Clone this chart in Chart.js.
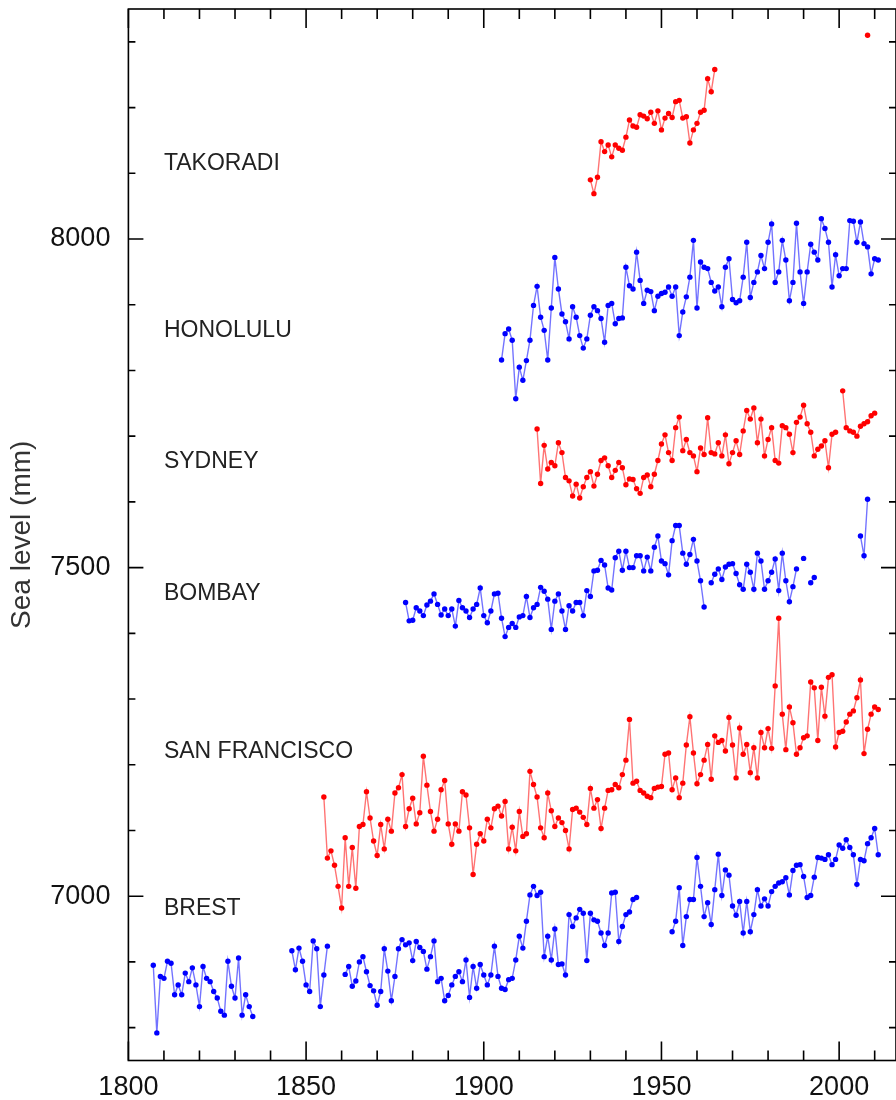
<!DOCTYPE html>
<html>
<head>
<meta charset="utf-8">
<script src="https://cdn.jsdelivr.net/npm/chart.js@4.4.1/dist/chart.umd.min.js"></script>
<style>
  html, body { margin: 0; padding: 0; background: #fff; overflow: hidden; }
  #wrap { width: 900px; height: 1100px; }
</style>
</head>
<body>
<div id="wrap"><canvas id="chart"></canvas></div>
<script>
// yearly mean sea level (mm), each series split into [startYear, values] runs
const takoradi = [
    [1930, [8090, 8069, 8094, 8148, 8133, 8143, 8125, 8143, 8138, 8135,
            8155, 8181, 8172, 8170, 8189, 8187, 8183, 8193, 8176, 8195,
            8166, 8184, 8191, 8185, 8209, 8211, 8184, 8186, 8146, 8166,
            8176, 8193, 8196, 8244, 8224, 8258]],
    [2008, [8310]]
];

const honolulu = [
    [1905, [7816, 7856, 7863, 7846, 7757, 7805, 7785,
            7815, 7846, 7899, 7928, 7881, 7861, 7816, 7895, 7972, 7924,
            7886, 7874, 7848, 7897, 7881, 7853, 7834, 7848, 7884, 7897,
            7891, 7879, 7843, 7899, 7902, 7871, 7879, 7880, 7957, 7929,
            7924, 7980, 7937, 7902, 7922, 7920, 7891, 7913, 7917, 7919,
            7927, 7913, 7927, 7853, 7889, 7912, 7942, 7998, 7895, 7965,
            7957, 7955, 7934, 7921, 7927, 7897, 7957, 7970, 7908, 7903,
            7906, 7942, 7995, 7911, 7934, 7950, 7975, 7955, 7995, 8023,
            7934, 7950, 7998, 7968, 7906, 7934, 8024, 7950, 7902, 7950,
            7992, 7980, 7968, 8031, 8016, 7995, 7927, 7976, 7944, 7955,
            7955, 8028, 8027, 7995, 8026, 7993, 7988, 7947, 7970, 7968]]
];

const sydney = [
    [1915, [7711, 7628, 7686, 7650, 7660, 7655, 7690, 7675, 7637, 7632,
            7609, 7627, 7606, 7623, 7637, 7646, 7624, 7642, 7663, 7667, 7655,
            7637, 7648, 7660, 7652, 7626, 7635, 7634, 7620, 7613, 7637, 7641,
            7623, 7642, 7663, 7688, 7702, 7675, 7663, 7713, 7729, 7678,
            7695, 7675, 7670, 7646, 7682, 7672, 7728, 7675, 7673, 7690, 7670,
            7702, 7658, 7675, 7693, 7672, 7708, 7739, 7726, 7743, 7690,
            7726, 7670, 7695, 7713, 7663, 7659, 7716, 7713, 7703, 7675,
            7721, 7729, 7747, 7719, 7706, 7670, 7680, 7685, 7693, 7652,
            7703, 7706]],
    [2001, [7769, 7713, 7708, 7706, 7700, 7715, 7719, 7722, 7731, 7735]]
];

const bombay = [
    [1878, [7447, 7419, 7420, 7439, 7434, 7427, 7443, 7449, 7460, 7444,
            7428, 7437, 7427, 7437, 7411, 7450, 7439, 7434, 7424, 7437,
            7444, 7469, 7427, 7416, 7434, 7460, 7461, 7423, 7395, 7409,
            7415, 7409, 7425, 7427, 7456, 7424, 7439, 7444, 7470, 7464,
            7452, 7406, 7449, 7460, 7434, 7406, 7442, 7434, 7447, 7447,
            7427, 7465, 7456, 7495, 7496, 7511, 7504, 7469, 7466, 7515,
            7525, 7496, 7525, 7500, 7500, 7518, 7518, 7495, 7516, 7495,
            7531, 7548, 7510, 7506, 7489, 7541, 7564, 7564, 7522, 7505,
            7520, 7543, 7510, 7480, 7440, null,
            7477, 7490, 7498, 7482, 7501, 7505, 7506, 7491, 7474, 7467,
            7505, 7493, 7467, 7522, 7510, 7467, 7480, 7493, 7513, 7465,
            7522, 7480, 7448, 7471, 7498, null,
            7514, null, 7477, 7485]],
    [2006, [7548, 7518, 7604]]
];

const sanFrancisco = [
    [1855, [7151, 7058, 7069, 7047, 7015, 6982, 7089, 7015, 7074, 7012,
            7106, 7109, 7159, 7119, 7084, 7062, 7109, 7072, 7117, 7099,
            7157, 7165, 7185, 7106, 7133, 7149, 7110, 7127, 7213, 7169,
            7129, 7099, 7117, 7162, 7176, 7110, 7079, 7110, 7099, 7159,
            7154, 7104, 7033, 7079, 7095, 7084, 7117, 7104, 7133, 7137,
            7122, 7144, 7072, 7105, 7069, 7129, 7091, 7095, 7190, 7170,
            7151, 7104, 7089, 7157, 7130, 7106, 7119, 7112, 7100, 7072,
            7132, 7134, 7128, 7120, 7109, 7164, 7134, 7147, 7103, 7134,
            7161, 7162, 7170, 7165, 7185, 7207, 7269, 7172, 7175, 7161,
            7157, 7152, 7150, 7164, 7166, 7167, 7216, 7218, 7162, 7180,
            7150, 7172, 7230, 7273, 7218, 7171, 7185, 7207, 7231, 7178,
            7244, 7234, 7237, 7221, 7272, 7230, 7180, 7256, 7216, 7231,
            7188, 7226, 7180, 7249, 7226, 7255, 7225, 7320, 7423, 7277,
            7223, 7288, 7264, 7216, 7226, 7241, 7244, 7326, 7317, 7237,
            7318, 7274, 7333, 7337, 7227, 7249, 7251, 7265, 7277, 7282,
            7302, 7329, 7217, 7254, 7277, 7288, 7284]]
];

const brest = [
    [1807, [6895, 6792, 6878, 6875, 6901, 6898, 6850, 6865, 6850, 6883,
            6870, 6891, 6865, 6832, 6893, 6875, 6870, 6855, 6845, 6825,
            6819, 6901, 6863, 6845, 6906, 6819, 6850, 6832, 6817]],
    [1846, [6917, 6888, 6921, 6901, 6865, 6855, 6932, 6920, 6832, 6880, 6924]],
    [1861, [6881, 6893, 6863, 6871, 6900, 6908, 6885, 6864, 6856, 6834,
            6855, 6920, 6886, 6841, 6878, 6920, 6934, 6926, 6929, 6902,
            6931, 6922, 6916, 6889, 6908, 6932, 6870, 6875, 6841, 6849,
            6865, 6878, 6885, 6870, 6903, 6846, 6893, 6860, 6896, 6880,
            6865, 6880, 6924,
            6878, 6860, 6858, 6873, 6875, 6903, 6939, 6921, 6962,
            7002, 7015, 7001, 7006, 6908, 6939, 6903, 6950, 6896, 6897,
            6880, 6972, 6954, 6967, 6980, 6974, 6902, 6974, 6964, 6962,
            6944, 6925, 6944, 7005, 7006, 6931, 6954, 6972, 6976, 6995,
            6998]],
    [1953, [6946, 6962, 7013, 6925, 6969, 6995, 6995, 7059, 7015, 6969,
            6990, 6957, 7010, 7064, 7001, 7040, 7032, 6985, 6971, 6992,
            6944, 6992, 6946, 6972, 7010, 6985, 6996, 6985, 7007, 7015,
            7020, 7022, 7028, 7002, 7039, 7047, 7048, 7030, 6998, 7001,
            7029, 7059, 7058, 7056, 7063, 7048, 7056, 7078, 7073, 7086,
            7074, 7063, 7018, 7056, 7054, 7080, 7089, 7103, 7063]]
];

const stationNames = ['TAKORADI', 'HONOLULU', 'SYDNEY', 'BOMBAY', 'SAN FRANCISCO', 'BREST'];
const stationSeries = [takoradi, honolulu, sydney, bombay, sanFrancisco, brest];
const stationColors = ['red', 'blue', 'red', 'blue', 'red', 'blue'];
// where each name sits, in data units (year, mm)
const nameYear = 1810;
const nameLevels = [8115, 7861, 7661, 7461, 7220, 6981];

const xTicks = { min: 1800, max: 2016, first: 1800, last: 2010, step: 10, major: 50 };
const yTicks = { min: 6750, max: 8350, first: 6800, last: 8300, step: 100, major: 500 };

const lineColors = { red: 'rgba(255,0,0,0.55)', blue: 'rgba(0,0,255,0.55)' };
const dotColors = { red: '#ff0000', blue: '#0000ff' };

function toPoints(runs) {
    const pts = [];
    runs.forEach(([start, vals], r) => {
        if (r > 0) pts.push({ x: start - 0.5, y: null });
        vals.forEach((v, i) => pts.push({ x: start + i, y: v }));
    });
    return pts;
}

function tickList(t) {
    const out = [];
    for (let v = t.first; v <= t.last; v += t.step) out.push({ value: v });
    return out;
}

function noEdgePadding(s) {
    s.paddingTop = 0; s.paddingBottom = 0;
    s.paddingLeft = 0; s.paddingRight = 0;
}

const FONT = '"Liberation Sans", Arial, sans-serif';

// frame with inward ticks on all four sides, plus the station names
const framePlugin = {
    id: 'frame',
    afterDatasetsDraw(chart) {
        const { ctx, chartArea: a, scales: { x, y } } = chart;
        ctx.save();
        ctx.strokeStyle = '#000';
        ctx.lineWidth = 1.6;
        ctx.strokeRect(a.left, a.top, a.right - a.left, a.bottom - a.top);
        ctx.beginPath();
        x.ticks.forEach(t => {
            const px = x.getPixelForValue(t.value);
            const len = t.value % xTicks.major === 0 ? 19 : 10;
            ctx.moveTo(px, a.bottom); ctx.lineTo(px, a.bottom - len);
            ctx.moveTo(px, a.top); ctx.lineTo(px, a.top + len);
        });
        y.ticks.forEach(t => {
            const py = y.getPixelForValue(t.value);
            const len = t.value % yTicks.major === 0 ? 15 : 7;
            ctx.moveTo(a.left, py); ctx.lineTo(a.left + len, py);
            ctx.moveTo(a.right, py); ctx.lineTo(a.right - len, py);
        });
        ctx.stroke();

        ctx.fillStyle = '#222';
        ctx.font = '23px ' + FONT;
        ctx.textBaseline = 'middle';
        ctx.textAlign = 'left';
        stationNames.forEach((name, i) => {
            ctx.fillText(name, x.getPixelForValue(nameYear), y.getPixelForValue(nameLevels[i]));
        });
        ctx.restore();
    }
};

const datasets = stationSeries.map((runs, i) => ({
    label: stationNames[i],
    data: toPoints(runs),
    borderColor: lineColors[stationColors[i]],
    borderWidth: 1.4,
    pointRadius: 2.7,
    pointBorderWidth: 0,
    pointBackgroundColor: dotColors[stationColors[i]],
    spanGaps: false,
    tension: 0
}));

new Chart(document.getElementById('chart'), {
    type: 'line',
    data: { datasets },
    options: {
        responsive: true,
        maintainAspectRatio: false,
        animation: false,
        layout: { padding: { top: 9, right: 1, bottom: 0, left: 0 } },
        plugins: { legend: { display: false }, tooltip: { enabled: false } },
        scales: {
            x: {
                type: 'linear',
                min: xTicks.min,
                max: xTicks.max,
                grid: { display: false },
                border: { display: false },
                afterBuildTicks: s => { s.ticks = tickList(xTicks); },
                ticks: {
                    autoSkip: false,
                    maxRotation: 0,
                    padding: 3,
                    color: '#111',
                    font: { family: FONT, size: 27 },
                    callback: v => (v % xTicks.major === 0 ? String(v) : '')
                },
                afterFit: s => { s.height = 39.5; noEdgePadding(s); }
            },
            y: {
                min: yTicks.min,
                max: yTicks.max,
                grid: { display: false },
                border: { display: false },
                afterBuildTicks: s => { s.ticks = tickList(yTicks); },
                title: {
                    display: true,
                    text: 'Sea level (mm)',
                    color: '#333',
                    font: { family: FONT, size: 28 },
                    padding: { top: 5, bottom: 0 }
                },
                ticks: {
                    autoSkip: false,
                    padding: 10,
                    color: '#111',
                    font: { family: FONT, size: 27 },
                    callback: v => (v % yTicks.major === 0 ? String(v) : '')
                },
                afterFit: s => { s.width = 128.4; noEdgePadding(s); }
            }
        }
    },
    plugins: [framePlugin]
});
</script>
</body>
</html>
